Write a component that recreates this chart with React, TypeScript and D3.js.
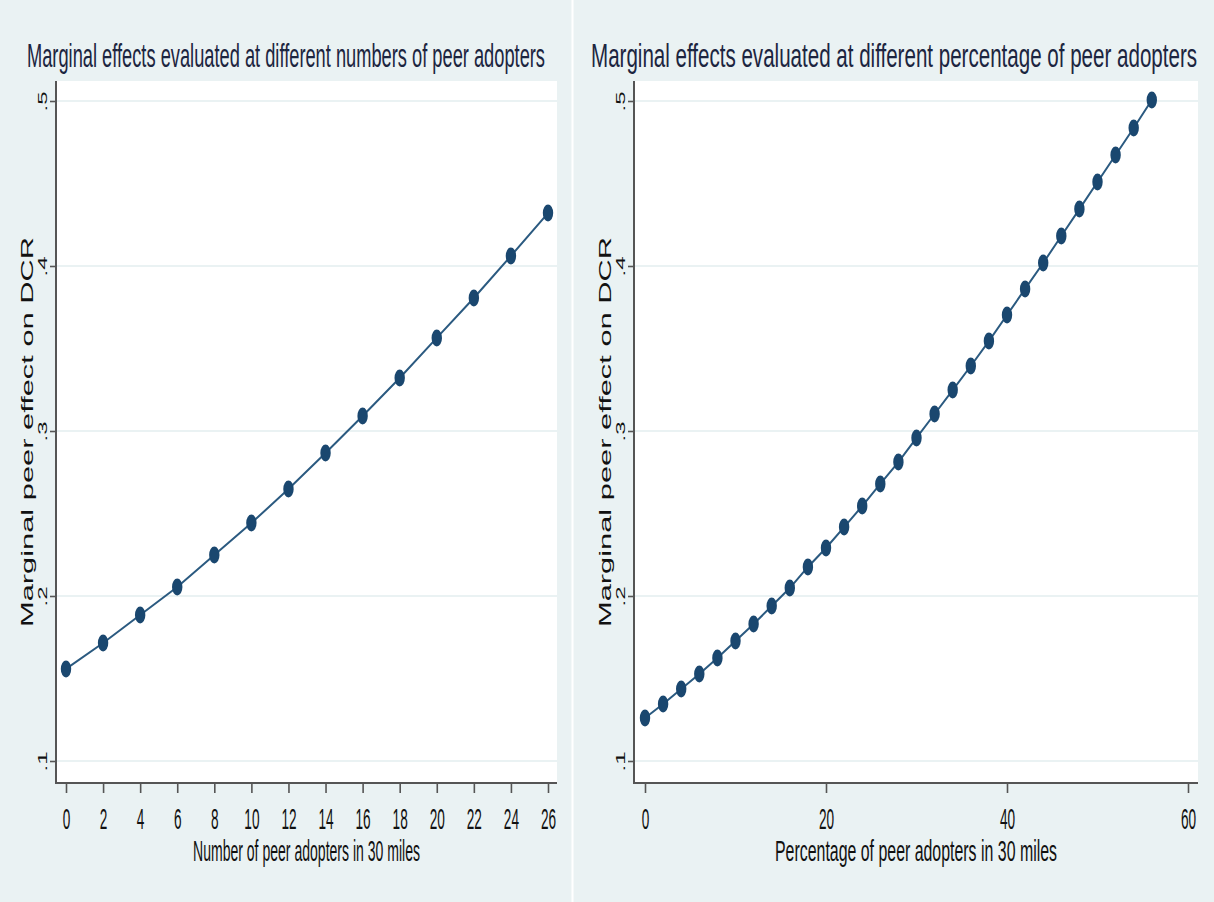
import React, { useEffect, useRef } from 'react';
import * as d3 from 'd3';

// chart values
const numberAdopters = [0, 2, 4, 6, 8, 10, 12, 14, 16, 18, 20, 22, 24, 26];
const effectByNumber = [0.1558, 0.1715, 0.1885, 0.2055, 0.2248, 0.2442, 0.2648, 0.2867, 0.3091, 0.3321, 0.3564, 0.3806, 0.4061, 0.4321];
const numberTicks = [0, 2, 4, 6, 8, 10, 12, 14, 16, 18, 20, 22, 24, 26];

const percentAdopters = [0, 2, 4, 6, 8, 10, 12, 14, 16, 18, 20, 22, 24, 26, 28, 30, 32, 34, 36, 38, 40, 42, 44, 46, 48, 50, 52, 54, 56];
const effectByPercent = [0.1261, 0.1345, 0.1436, 0.1527, 0.1624, 0.1727, 0.183, 0.1939, 0.2048, 0.2176, 0.2291, 0.2418, 0.2545, 0.2679, 0.2812, 0.2958, 0.3103, 0.3248, 0.3394, 0.3545, 0.3703, 0.3861, 0.4018, 0.4182, 0.4345, 0.4509, 0.4673, 0.4836, 0.5006];
const percentTicks = [0, 20, 40, 60];

const yTicks = [0.1, 0.2, 0.3, 0.4, 0.5];
const yTickLabels = ['.1', '.2', '.3', '.4', '.5'];

const titles = [
  'Marginal effects evaluated at different numbers of peer adopters',
  'Marginal effects evaluated at different percentage of peer adopters',
];
const xTitles = ['Number of peer adopters in 30 miles', 'Percentage of peer adopters in 30 miles'];
const yTitle = 'Marginal peer effect on DCR';

const W = 1214;
const H = 902;
const BG = '#eaf2f3';
const NAVY = '#1a476f';
const AXIS = '#555';
const FONT = '"Liberation Sans", Arial, sans-serif';
const SQUEEZE = 0.6; // the picture is squeezed sideways

const panels = [
  {
    xs: numberAdopters, ys: effectByNumber, ticks: numberTicks, domain: [0, 26],
    left: 56, right: 557, range: [66, 548], panelX: 0, panelW: 572,
    title: titles[0], titleW: 518, xTitle: xTitles[0], xTitleW: 227,
  },
  {
    xs: percentAdopters, ys: effectByPercent, ticks: percentTicks, domain: [0, 60],
    left: 634, right: 1198, range: [645, 1188], panelX: 574, panelW: 640,
    title: titles[1], titleW: 606, xTitle: xTitles[1], xTitleW: 282,
  },
];

const top = 81;
const bottom = 783;

export default function App() {
  const ref = useRef<SVGSVGElement>(null);

  useEffect(() => {
    const svg = d3.select(ref.current);
    svg.selectAll('*').remove();

    svg.append('rect').attr('width', W).attr('height', H).attr('fill', BG);
    svg.append('line')
      .attr('x1', 572.5).attr('x2', 572.5).attr('y1', 0).attr('y2', H)
      .attr('stroke', '#fff').attr('stroke-width', 2);

    const y = d3.scaleLinear().domain([0.1, 0.5]).range([761, 101]);

    panels.forEach(p => {
      const x = d3.scaleLinear().domain(p.domain).range(p.range);
      const g = svg.append('g');

      g.append('rect')
        .attr('x', p.left).attr('y', top)
        .attr('width', p.right - p.left).attr('height', bottom - top)
        .attr('fill', '#fff');

      g.selectAll('line.grid').data(yTicks).enter().append('line')
        .attr('class', 'grid')
        .attr('x1', p.left).attr('x2', p.right)
        .attr('y1', d => y(d)).attr('y2', d => y(d))
        .attr('stroke', BG).attr('stroke-width', 2);

      // y axis
      const ya = g.append('g').attr('transform', `translate(${p.left},0)`)
        .call(d3.axisLeft(y).tickValues(yTicks).tickSize(6).tickSizeOuter(0));
      ya.select('.domain').remove();
      ya.selectAll('.tick line').attr('stroke', AXIS).attr('stroke-width', 1.6);
      ya.selectAll('.tick text').remove();
      ya.selectAll('.tick').append('text')
        .attr('transform', `translate(-9,0) scale(0.55,1) rotate(-90)`)
        .attr('text-anchor', 'middle')
        .attr('fill', '#111')
        .style('font-family', FONT).style('font-size', '24px')
        .text((d: any) => yTickLabels[yTicks.indexOf(d)]);

      // x axis
      const xa = g.append('g').attr('transform', `translate(0,${bottom})`)
        .call(d3.axisBottom(x).tickValues(p.ticks).tickSize(10).tickSizeOuter(0));
      xa.select('.domain').remove();
      xa.selectAll('.tick line').attr('stroke', AXIS).attr('stroke-width', 1.6);
      xa.selectAll('.tick text').remove();
      xa.selectAll('.tick').append('text')
        .attr('transform', 'translate(0,46) scale(0.47,1)')
        .attr('text-anchor', 'middle')
        .attr('fill', '#111')
        .style('font-family', FONT).style('font-size', '29px')
        .text((d: any) => String(d));

      g.append('line')
        .attr('x1', p.left).attr('x2', p.left).attr('y1', top).attr('y2', bottom + 1)
        .attr('stroke', AXIS).attr('stroke-width', 2);
      g.append('line')
        .attr('x1', p.left - 1).attr('x2', p.right).attr('y1', bottom).attr('y2', bottom)
        .attr('stroke', AXIS).attr('stroke-width', 2);

      // series
      const pts = p.xs.map((v, i) => [v, p.ys[i]] as [number, number]);
      const line = d3.line<[number, number]>().x(d => x(d[0])).y(d => y(d[1]));
      g.append('path').datum(pts)
        .attr('d', line).attr('fill', 'none')
        .attr('stroke', '#2b5a80').attr('stroke-width', 2);
      g.selectAll('ellipse').data(pts).enter().append('ellipse')
        .attr('cx', d => x(d[0])).attr('cy', d => y(d[1]))
        .attr('rx', 5.2).attr('ry', 8.5)
        .attr('fill', NAVY);

      // titles
      const cx = p.panelX + p.panelW / 2;
      g.append('text')
        .attr('transform', `translate(${cx},67) scale(${SQUEEZE},1)`)
        .attr('text-anchor', 'middle')
        .attr('textLength', p.titleW / SQUEEZE).attr('lengthAdjust', 'spacingAndGlyphs')
        .attr('fill', '#1c2540')
        .style('font-family', FONT).style('font-size', '33px')
        .text(p.title);

      const px = (p.left + p.right) / 2;
      g.append('text')
        .attr('transform', `translate(${px},861) scale(${SQUEEZE},1)`)
        .attr('text-anchor', 'middle')
        .attr('textLength', p.xTitleW / SQUEEZE).attr('lengthAdjust', 'spacingAndGlyphs')
        .attr('fill', '#111')
        .style('font-family', FONT).style('font-size', '29px')
        .text(p.xTitle);

      g.append('text')
        .attr('transform', `translate(${p.left - 23},432) scale(${SQUEEZE},1) rotate(-90)`)
        .attr('text-anchor', 'middle')
        .attr('textLength', 390).attr('lengthAdjust', 'spacingAndGlyphs')
        .attr('fill', '#111')
        .style('font-family', FONT).style('font-size', '29px')
        .text(yTitle);
    });
  }, []);

  return (
    <svg ref={ref} width={W} height={H} style={{ display: 'block', position: 'absolute', left: 0, top: 0 }} />
  );
}
